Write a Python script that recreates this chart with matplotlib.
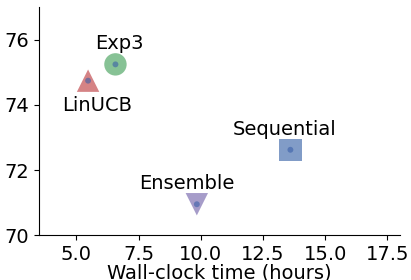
import matplotlib
matplotlib.use("Agg")
import matplotlib.pyplot as plt

# data
methods = ["LinUCB", "Exp3", "Sequential", "Ensemble"]
hours = [5.47, 6.57, 13.6, 9.84]
accuracy = [74.74, 75.24, 72.62, 70.95]
markers = ["^", "o", "s", "v"]
colors = ["#C44E52", "#55A868", "#4C72B0", "#8172B3"]
# label offsets in points (dx, dy)
label_offsets = [(6.5, -11), (3, 8), (-4.5, 8), (-7, 8)]

fig, ax = plt.subplots(figsize=(4.11, 2.8), dpi=100)

for i in range(len(methods)):
    ax.scatter(hours[i], accuracy[i], marker=markers[i], s=260, color=colors[i],
               alpha=0.7, edgecolors="none", zorder=2)
    ax.scatter(hours[i], accuracy[i], marker="o", s=18, color="#3a5fa8",
               alpha=0.6, edgecolors="none", zorder=3)
    dx, dy = label_offsets[i]
    va = "bottom" if dy > 0 else "top"
    ax.annotate(methods[i], (hours[i], accuracy[i]), xytext=(dx, dy),
                textcoords="offset points", ha="center", va=va, fontsize=14)

ax.set_xlim(3.5, 18)
ax.set_ylim(70, 77)
ax.set_xticks([5.0, 7.5, 10.0, 12.5, 15.0, 17.5])
ax.set_yticks([70, 72, 74, 76])
ax.tick_params(labelsize=14)
ax.set_xlabel("Wall-clock time (hours)", fontsize=14, labelpad=0)
ax.spines["top"].set_visible(False)
ax.spines["right"].set_visible(False)

fig.subplots_adjust(left=0.095, right=0.973, top=0.975, bottom=0.16)
fig.savefig("out.png", dpi=100)
